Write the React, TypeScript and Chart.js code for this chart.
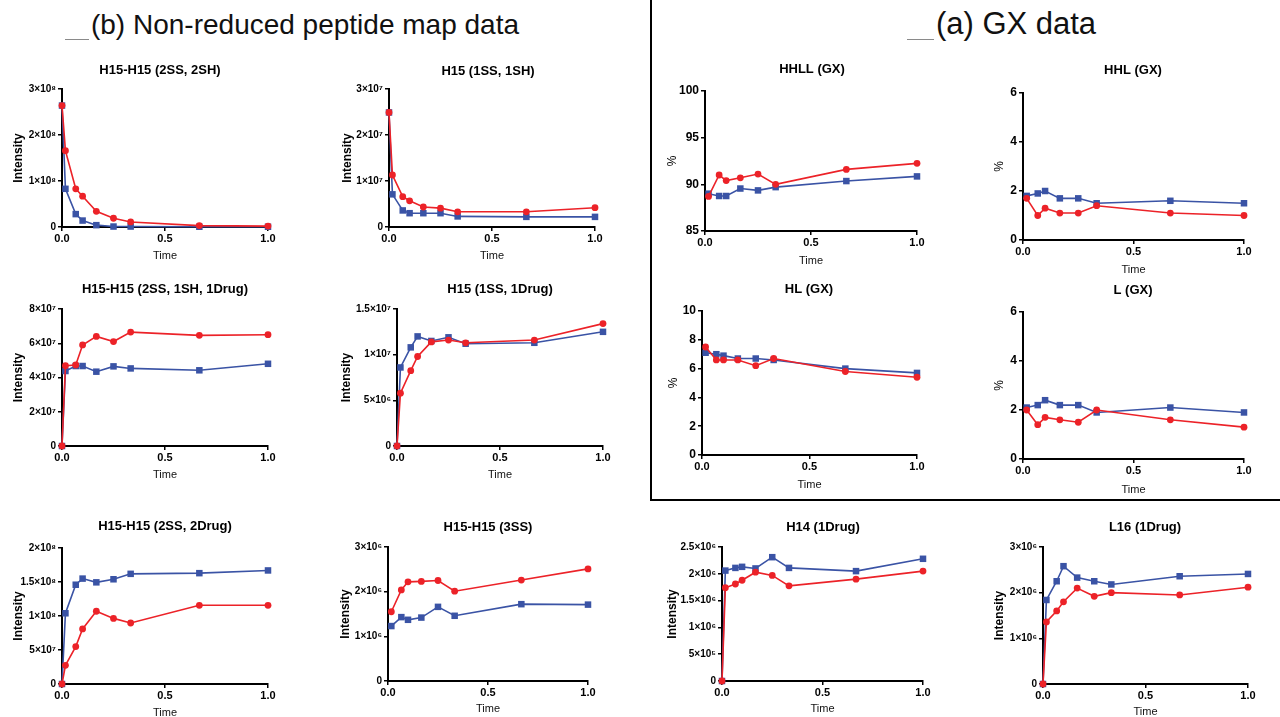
import React, { useEffect, useRef } from "react";
import { Chart, registerables } from "chart.js";

Chart.register(...registerables);

// ---------- DATA ----------
const TIME_FULL = [0, 0.0167, 0.0667, 0.1, 0.1667, 0.25, 0.3333, 0.6667, 1.0];
const TIME_NO0 = [0.0167, 0.0667, 0.1, 0.1667, 0.25, 0.3333, 0.6667, 1.0];

const P1_TITLE = "H15-H15 (2SS, 2SH)";
const P1_RED = [2.64e8, 1.66e8, 0.83e8, 0.67e8, 0.34e8, 0.19e8, 0.11e8, 0.03e8, 0.02e8];
const P1_BLUE = [2.64e8, 0.83e8, 0.28e8, 0.14e8, 0.04e8, 0.01e8, 0.01e8, 0.005e8, 0.005e8];

const P2_TITLE = "H15 (1SS, 1SH)";
const P2_RED = [2.49e7, 1.13e7, 0.66e7, 0.57e7, 0.435e7, 0.41e7, 0.33e7, 0.33e7, 0.42e7];
const P2_BLUE = [2.49e7, 0.71e7, 0.36e7, 0.3e7, 0.3e7, 0.3e7, 0.23e7, 0.22e7, 0.22e7];

const P3_TITLE = "H15-H15 (2SS, 1SH, 1Drug)";
const P3_RED = [0, 4.69e7, 4.73e7, 5.9e7, 6.4e7, 6.1e7, 6.65e7, 6.46e7, 6.5e7];
const P3_BLUE = [0, 4.38e7, 4.67e7, 4.67e7, 4.34e7, 4.65e7, 4.53e7, 4.42e7, 4.8e7];

const P4_TITLE = "H15 (1SS, 1Drug)";
const P4_RED = [0, 5.78e6, 8.25e6, 9.8e6, 11.4e6, 11.6e6, 11.3e6, 11.6e6, 13.4e6];
const P4_BLUE = [0, 8.6e6, 10.8e6, 12.0e6, 11.5e6, 11.9e6, 11.2e6, 11.3e6, 12.5e6];

const P5_TITLE = "H15-H15 (2SS, 2Drug)";
const P5_RED = [0, 2.75e7, 5.5e7, 8.1e7, 10.7e7, 9.65e7, 8.97e7, 11.57e7, 11.57e7];
const P5_BLUE = [0, 10.4e7, 14.6e7, 15.5e7, 14.95e7, 15.4e7, 16.2e7, 16.3e7, 16.7e7];

const P6_TITLE = "H15-H15 (3SS)";
const P6_RED = [1.55e6, 2.04e6, 2.22e6, 2.23e6, 2.25e6, 2.01e6, 2.26e6, 2.51e6];
const P6_BLUE = [1.23e6, 1.43e6, 1.37e6, 1.42e6, 1.66e6, 1.46e6, 1.72e6, 1.71e6];

const P7_TITLE = "HHLL (GX)";
const P7_RED = [88.7, 91.0, 90.4, 90.7, 91.1, 90.0, 91.6, 92.25];
const P7_BLUE = [89.0, 88.75, 88.75, 89.55, 89.35, 89.7, 90.35, 90.85];

const P8_TITLE = "HHL (GX)";
const P8_RED = [1.7, 1.0, 1.3, 1.1, 1.1, 1.4, 1.1, 1.0];
const P8_BLUE = [1.8, 1.9, 2.0, 1.7, 1.7, 1.5, 1.6, 1.5];

const P9_TITLE = "HL (GX)";
const P9_RED = [7.5, 6.6, 6.6, 6.6, 6.2, 6.7, 5.8, 5.4];
const P9_BLUE = [7.1, 7.0, 6.9, 6.7, 6.7, 6.6, 6.0, 5.7];

const P10_TITLE = "L (GX)";
const P10_RED = [2.0, 1.4, 1.7, 1.6, 1.5, 2.0, 1.6, 1.3];
const P10_BLUE = [2.1, 2.2, 2.4, 2.2, 2.2, 1.9, 2.1, 1.9];

const P11_TITLE = "H14 (1Drug)";
const P11_RED = [0, 1.74e6, 1.81e6, 1.88e6, 2.03e6, 1.97e6, 1.775e6, 1.9e6, 2.05e6];
const P11_BLUE = [0, 2.06e6, 2.11e6, 2.13e6, 2.1e6, 2.31e6, 2.11e6, 2.05e6, 2.28e6];

const P12_TITLE = "L16 (1Drug)";
const P12_RED = [0, 1.36e6, 1.6e6, 1.8e6, 2.1e6, 1.92e6, 2.0e6, 1.95e6, 2.12e6];
const P12_BLUE = [0, 1.84e6, 2.25e6, 2.58e6, 2.33e6, 2.25e6, 2.18e6, 2.36e6, 2.41e6];

const X_TICK_STEP = 0.5;
const HEADER_LEFT = "(b) Non-reduced peptide map data";
const HEADER_RIGHT = "(a) GX data";

// ---------- STYLE / LAYOUT ----------
const FONT = "'Liberation Sans', Arial, Helvetica, sans-serif";
const RED = "#ec2228";
const BLUE = "#3a53a5";

type Panel = {
  title: string;
  times: number[];
  red: number[];
  blue: number[];
  yMin: number;
  yMax: number;
  yStep: number;
  yTitle: string;
  sci: boolean;
  // layout (page px): plot area, title centre, y title x, x title y
  L: number; T: number; R: number; B: number;
  tcx: number; tcy: number; ylab: number; xlab: number;
};

const PANELS: Panel[] = [
  { title: P1_TITLE, times: TIME_FULL, red: P1_RED, blue: P1_BLUE, yMin: 0, yMax: 3e8, yStep: 1e8, yTitle: "Intensity", sci: true,
    L: 62, T: 89, R: 268, B: 227, tcx: 160, tcy: 69, ylab: 18, xlab: 256 },
  { title: P2_TITLE, times: TIME_FULL, red: P2_RED, blue: P2_BLUE, yMin: 0, yMax: 3e7, yStep: 1e7, yTitle: "Intensity", sci: true,
    L: 389, T: 89, R: 595, B: 227, tcx: 488, tcy: 70, ylab: 347, xlab: 256 },
  { title: P3_TITLE, times: TIME_FULL, red: P3_RED, blue: P3_BLUE, yMin: 0, yMax: 8e7, yStep: 2e7, yTitle: "Intensity", sci: true,
    L: 62, T: 309, R: 268, B: 446, tcx: 165, tcy: 288, ylab: 18, xlab: 475 },
  { title: P4_TITLE, times: TIME_FULL, red: P4_RED, blue: P4_BLUE, yMin: 0, yMax: 1.5e7, yStep: 5e6, yTitle: "Intensity", sci: true,
    L: 397, T: 309, R: 603, B: 446, tcx: 500, tcy: 288, ylab: 346, xlab: 475 },
  { title: P5_TITLE, times: TIME_FULL, red: P5_RED, blue: P5_BLUE, yMin: 0, yMax: 2e8, yStep: 5e7, yTitle: "Intensity", sci: true,
    L: 62, T: 548, R: 268, B: 684, tcx: 165, tcy: 525, ylab: 18, xlab: 713 },
  { title: P6_TITLE, times: TIME_NO0, red: P6_RED, blue: P6_BLUE, yMin: 0, yMax: 3e6, yStep: 1e6, yTitle: "Intensity", sci: true,
    L: 388, T: 547, R: 588, B: 681, tcx: 488, tcy: 526, ylab: 345, xlab: 709 },
  { title: P7_TITLE, times: TIME_NO0, red: P7_RED, blue: P7_BLUE, yMin: 85, yMax: 100, yStep: 5, yTitle: "%", sci: false,
    L: 705, T: 91, R: 917, B: 231, tcx: 812, tcy: 68, ylab: 672, xlab: 261 },
  { title: P8_TITLE, times: TIME_NO0, red: P8_RED, blue: P8_BLUE, yMin: 0, yMax: 6, yStep: 2, yTitle: "%", sci: false,
    L: 1023, T: 93, R: 1244, B: 240, tcx: 1133, tcy: 69, ylab: 999, xlab: 270 },
  { title: P9_TITLE, times: TIME_NO0, red: P9_RED, blue: P9_BLUE, yMin: 0, yMax: 10, yStep: 2, yTitle: "%", sci: false,
    L: 702, T: 311, R: 917, B: 455, tcx: 809, tcy: 288, ylab: 673, xlab: 485 },
  { title: P10_TITLE, times: TIME_NO0, red: P10_RED, blue: P10_BLUE, yMin: 0, yMax: 6, yStep: 2, yTitle: "%", sci: false,
    L: 1023, T: 312, R: 1244, B: 459, tcx: 1133, tcy: 289, ylab: 999, xlab: 490 },
  { title: P11_TITLE, times: TIME_FULL, red: P11_RED, blue: P11_BLUE, yMin: 0, yMax: 2.5e6, yStep: 5e5, yTitle: "Intensity", sci: true,
    L: 722, T: 547, R: 923, B: 681, tcx: 823, tcy: 526, ylab: 672, xlab: 709 },
  { title: P12_TITLE, times: TIME_FULL, red: P12_RED, blue: P12_BLUE, yMin: 0, yMax: 3e6, yStep: 1e6, yTitle: "Intensity", sci: true,
    L: 1043, T: 547, R: 1248, B: 684, tcx: 1145, tcy: 526, ylab: 999, xlab: 712 },
];

const SUP: Record<string, string> = {
  "0": "⁰", "1": "¹", "2": "²", "3": "³", "4": "⁴", "5": "⁵", "6": "⁶", "7": "⁷", "8": "⁸", "9": "⁹", "-": "⁻",
};

function sciLabel(v: number): string {
  if (v === 0) return "0";
  const e = Math.floor(Math.log10(Math.abs(v)) + 1e-9);
  const m = v / Math.pow(10, e);
  const ms = parseFloat(m.toFixed(2)).toString();
  return ms + "×10" + String(e).split("").map((c) => SUP[c] || c).join("");
}

const TITLE_SIZE = 13;
const YT_SIZE = 12;
const XT_SIZE = 11;

function PanelChart({ p }: { p: Panel }) {
  const ref = useRef<HTMLCanvasElement | null>(null);
  const titleLH = TITLE_SIZE * 1.2;
  const cl = Math.round(p.ylab - (YT_SIZE * 1.2) / 2);
  const cr = Math.round(2 * p.tcx - cl);
  const ct = Math.round(p.tcy - titleLH / 2 + 1.5);
  const cb = Math.round(p.xlab + (XT_SIZE * 1.2) / 2);
  const w = cr - cl;
  const h = cb - ct;
  const yw = p.L - cl;
  const rw = cr - p.R;
  const pb = p.T - ct - titleLH;
  const xh = cb - p.B;

  useEffect(() => {
    if (!ref.current) return;
    const chart = new Chart(ref.current, {
      type: "line",
      data: {
        datasets: [
          {
            label: "Series A",
            data: p.times.map((t, i) => ({ x: t, y: p.red[i] })),
            borderColor: RED,
            backgroundColor: RED,
            borderWidth: 1.6,
            pointStyle: "circle",
            pointRadius: 3.4,
            pointBorderWidth: 0,
            tension: 0,
            clip: false as any,
          },
          {
            label: "Series B",
            data: p.times.map((t, i) => ({ x: t, y: p.blue[i] })),
            borderColor: BLUE,
            backgroundColor: BLUE,
            borderWidth: 1.6,
            pointStyle: "rect",
            pointRadius: 4.6,
            pointBorderWidth: 0,
            tension: 0,
            clip: false as any,
          },
        ],
      },
      options: {
        animation: false,
        responsive: false,
        maintainAspectRatio: false,
        devicePixelRatio: 1,
        layout: { padding: 0 },
        plugins: {
          legend: { display: false },
          tooltip: { enabled: false },
          title: {
            display: true,
            text: p.title,
            color: "#000",
            font: { family: FONT, size: TITLE_SIZE, weight: "bold" },
            padding: { top: 0, bottom: pb },
          },
        },
        scales: {
          x: {
            type: "linear",
            position: "bottom",
            min: 0,
            max: 1,
            afterFit: (s: any) => { s.height = xh; },
            ticks: {
              stepSize: X_TICK_STEP,
              color: "#000",
              padding: 1,
              font: { family: FONT, size: 11, weight: "bold" },
              callback: (v: any) => Number(v).toFixed(1),
            },
            grid: { drawOnChartArea: false, drawTicks: true, tickLength: 4, color: "#000", lineWidth: 1.5 },
            border: { display: true, color: "#000", width: 2 },
            title: {
              display: true,
              text: "Time",
              color: "#111",
              padding: 0,
              font: { family: FONT, size: XT_SIZE },
            },
          },
          y: {
            type: "linear",
            position: "left",
            min: p.yMin,
            max: p.yMax,
            afterFit: (s: any) => { s.width = yw; },
            ticks: {
              stepSize: p.yStep,
              color: "#000",
              padding: 2,
              font: { family: FONT, size: p.sci ? 10 : 12, weight: "bold" },
              callback: (v: any) => (p.sci ? sciLabel(Number(v)) : String(Number(v))),
            },
            grid: { drawOnChartArea: false, drawTicks: true, tickLength: 4, color: "#000", lineWidth: 1.5 },
            border: { display: true, color: "#000", width: 2 },
            title: {
              display: true,
              text: p.yTitle,
              color: "#000",
              padding: 0,
              font: { family: FONT, size: YT_SIZE, weight: p.sci ? "bold" : "normal" },
            },
          },
          yRight: {
            type: "linear",
            position: "right",
            display: true,
            afterFit: (s: any) => { s.width = rw; },
            ticks: { display: false },
            grid: { display: false },
            border: { display: false },
          },
        },
      } as any,
    });
    return () => chart.destroy();
  }, []);

  return (
    <canvas
      ref={ref}
      width={w}
      height={h}
      style={{ position: "absolute", left: cl, top: ct, width: w, height: h }}
    />
  );
}

export default function App() {
  return (
    <div
      style={{
        position: "fixed",
        left: 0,
        top: 0,
        width: 1280,
        height: 717,
        overflow: "hidden",
        background: "#fff",
        fontFamily: FONT,
      }}
    >
      {/* header rules, partly covered by the header text */}
      <div style={{ position: "absolute", left: 65, top: 39, width: 445, height: 1, background: "#8a8a8a" }} />
      <div style={{ position: "absolute", left: 907, top: 39, width: 180, height: 1, background: "#8a8a8a" }} />
      <div
        style={{
          position: "absolute", left: 0, width: 610, top: 8, textAlign: "center",
          fontSize: 28, lineHeight: "34px", color: "#111",
        }}
      >
        <span style={{ background: "#fff", padding: "0 2px" }}>{HEADER_LEFT}</span>
      </div>
      <div
        style={{
          position: "absolute", left: 916, width: 200, top: 7, textAlign: "center",
          fontSize: 31, lineHeight: "34px", color: "#111",
        }}
      >
        <span style={{ background: "#fff", padding: "0 2px" }}>{HEADER_RIGHT}</span>
      </div>
      {/* divider lines */}
      <div style={{ position: "absolute", left: 650, top: 0, width: 2, height: 501, background: "#000" }} />
      <div style={{ position: "absolute", left: 650, top: 499, width: 630, height: 2, background: "#000" }} />
      {PANELS.map((p, i) => (
        <PanelChart key={i} p={p} />
      ))}
    </div>
  );
}
